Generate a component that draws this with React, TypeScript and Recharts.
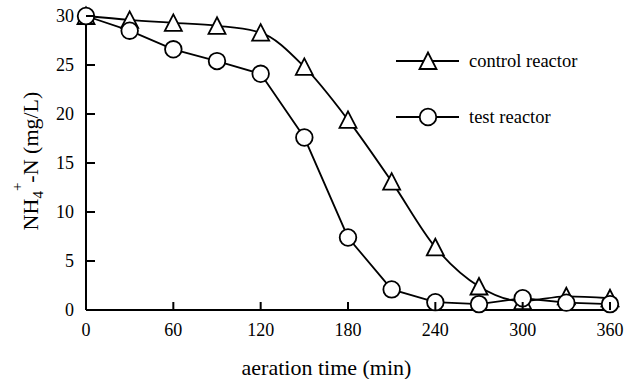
import React from 'react';
import { LineChart, Line, XAxis, YAxis, Legend } from 'recharts';

const times = [0, 30, 60, 90, 120, 150, 180, 210, 240, 270, 300, 330, 360];
const controlReactor = [30, 29.6, 29.3, 29.0, 28.3, 24.8, 19.4, 13.1, 6.4, 2.4, 0.9, 1.4, 1.2];
const testReactor = [30, 28.5, 26.6, 25.4, 24.1, 17.6, 7.4, 2.1, 0.8, 0.6, 1.2, 0.75, 0.6];
const xTicks = [0, 60, 120, 180, 240, 300, 360];
const yTicks = [0, 5, 10, 15, 20, 25, 30];
const seriesNames = ['control reactor', 'test reactor'];

const data = times.map((t, i) => ({ t, control: controlReactor[i], test: testReactor[i] }));

const FONT = 'Liberation Serif';

const Triangle = ({ cx, cy }: { cx: number; cy: number }) => (
  <polygon
    points={`${cx},${cy - 8.5} ${cx - 8.5},${cy + 8} ${cx + 8.5},${cy + 8}`}
    fill="#fff"
    stroke="#000"
    strokeWidth={1.8}
  />
);

const Circle = ({ cx, cy }: { cx: number; cy: number }) => (
  <circle cx={cx} cy={cy} r={8.3} fill="#fff" stroke="#000" strokeWidth={1.8} />
);

const renderTriangleDot = (props: any) => {
  const { cx, cy, index } = props;
  if (cx == null || cy == null) return <g key={`tri-${index}`} />;
  return <g key={`tri-${index}`}><Triangle cx={cx} cy={cy} /></g>;
};

const renderCircleDot = (props: any) => {
  const { cx, cy, index } = props;
  if (cx == null || cy == null) return <g key={`cir-${index}`} />;
  return <g key={`cir-${index}`}><Circle cx={cx} cy={cy} /></g>;
};

const YTick = (props: any) => {
  const { x, y, payload } = props;
  return (
    <g>
      <line x1={x + 12} x2={x + 21} y1={y} y2={y} stroke="#000" strokeWidth={2} />
      <text x={x} y={y} textAnchor="end" dominantBaseline="central" fontFamily={FONT} fontSize={18} fill="#000">
        {payload.value}
      </text>
    </g>
  );
};

const XTick = (props: any) => {
  const { x, y, payload } = props;
  return (
    <g>
      <line x1={x} x2={x} y1={y - 12} y2={y - 20} stroke="#000" strokeWidth={2} />
      <text x={x} y={y + 8} textAnchor="middle" dominantBaseline="central" fontFamily={FONT} fontSize={18} fill="#000">
        {payload.value}
      </text>
    </g>
  );
};

const YTitle = () => (
  <text
    x={37.5}
    y={161}
    transform="rotate(-90, 37.5, 161)"
    textAnchor="middle"
    fontFamily={FONT}
    fontSize={22}
    fill="#000"
  >
    NH
    <tspan fontSize={15} dy={5}>4</tspan>
    <tspan fontSize={15} dy={-21}>+</tspan>
    <tspan dy={16}>-N (mg/L)</tspan>
  </text>
);

const XTitle = () => (
  <text x={326.5} y={375} textAnchor="middle" fontFamily={FONT} fontSize={22} fill="#000">
    aeration time (min)
  </text>
);

const renderLegend = () => (
  <div style={{ fontFamily: FONT, fontSize: 18.5, color: '#000' }}>
    {seriesNames.map((name, i) => (
      <div key={name} style={{ display: 'flex', alignItems: 'center', height: 32, marginBottom: i === 0 ? 24 : 0 }}>
        <svg width={63} height={32} style={{ display: 'block' }}>
          <line x1={0} x2={63} y1={16} y2={16} stroke="#000" strokeWidth={1.8} />
          {i === 0 ? <Triangle cx={32} cy={16} /> : <Circle cx={32} cy={16} />}
        </svg>
        <span style={{ marginLeft: 10, whiteSpace: 'nowrap', lineHeight: '32px' }}>{name}</span>
      </div>
    ))}
  </div>
);

export default function App() {
  return (
    <div style={{ position: 'absolute', left: 0, top: 0, width: 637, height: 379, background: '#fff' }}>
      <LineChart width={637} height={379} data={data} margin={{ top: 16, right: 27, left: 0, bottom: 0 }}>
        <XAxis
          dataKey="t"
          type="number"
          domain={[0, 360]}
          ticks={xTicks}
          interval={0}
          height={69}
          tickSize={0}
          tickMargin={12}
          tick={<XTick />}
          axisLine={{ stroke: '#000', strokeWidth: 2 }}
          tickLine={false}
        />
        <YAxis
          type="number"
          domain={[0, 30]}
          ticks={yTicks}
          interval={0}
          width={86}
          tickSize={0}
          tickMargin={12}
          tick={<YTick />}
          axisLine={{ stroke: '#000', strokeWidth: 2 }}
          tickLine={false}
        />
        <Legend
          layout="vertical"
          align="center"
          verticalAlign="middle"
          content={renderLegend}
          wrapperStyle={{ position: 'absolute', left: 396, top: 45, width: 230 }}
        />
        <Line
          name={seriesNames[0]}
          dataKey="control"
          type="monotone"
          stroke="#000"
          strokeWidth={1.8}
          dot={renderTriangleDot}
          activeDot={false}
          isAnimationActive={false}
        />
        <Line
          name={seriesNames[1]}
          dataKey="test"
          type="linear"
          stroke="#000"
          strokeWidth={1.8}
          dot={renderCircleDot}
          activeDot={false}
          isAnimationActive={false}
        />
        <YTitle />
        <XTitle />
      </LineChart>
    </div>
  );
}
